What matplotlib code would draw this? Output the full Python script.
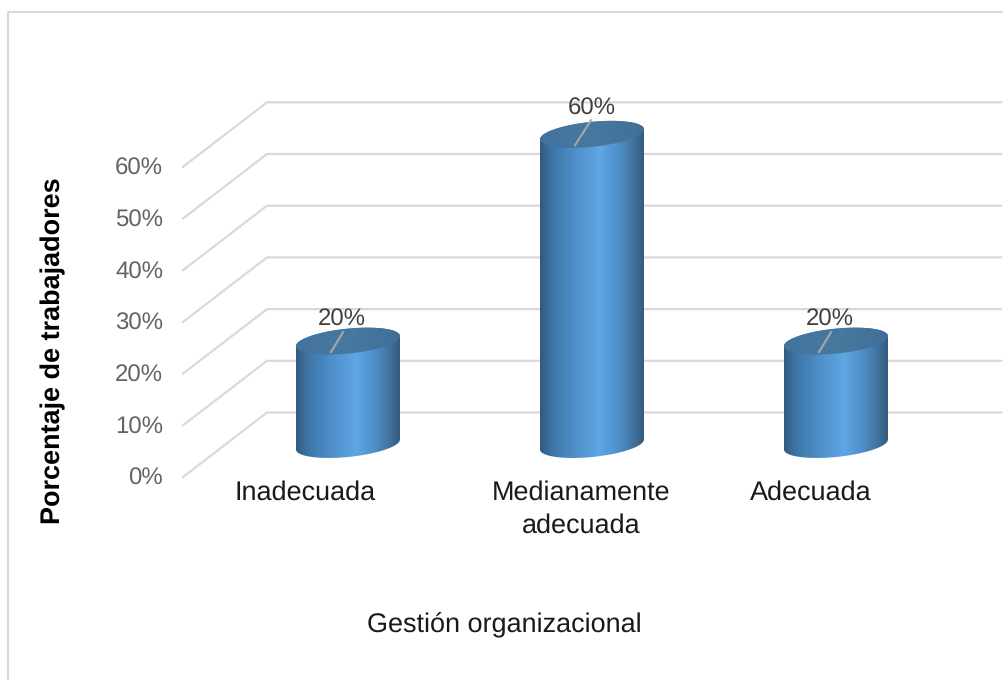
import matplotlib
matplotlib.use('Agg')
import matplotlib.pyplot as plt
import numpy as np
from matplotlib.colors import LinearSegmentedColormap
from matplotlib.patches import PathPatch
from matplotlib.path import Path

plt.rcParams['font.family'] = ['Liberation Sans', 'DejaVu Sans']
plt.rcParams['text.hinting'] = 'no_hinting'
plt.rcParams['text.hinting_factor'] = 1

categories = ['Inadecuada', 'Medianamente\nadecuada', 'Adecuada']
values = [20, 60, 20]
tick_values = [0, 10, 20, 30, 40, 50, 60]
tick_labels = ['0%', '10%', '20%', '30%', '40%', '50%', '60%']

# pixel layout of the fake 3d chart
PX_PER_UNIT = 5.17
FRONT_X, FRONT_ZERO = 183, 477
BACK_X, BACK_ZERO = 267, 412.5
BAR_ZERO = 444.5
BAR_FIRST, BAR_STEP = 348, 244
BAR_R = 52
GRID = '#d9d9d9'

# per bar offsets from the bar centre / top: label dx, label dy, leader top dx, leader top dy
label_pos = [(-6, -22, -5, -9), (0, -26, -1, -14), (-6, -22, -5, -9)]
cat_x = [305, 581, 811]
cat_y = [492.5, 509.5, 492.5]

body_cmap = LinearSegmentedColormap.from_list('body', [
    (0.0, '#33597e'), (0.12, '#3f76a8'), (0.35, '#4f90cb'), (0.58, '#5ea6e4'),
    (0.75, '#4f90cb'), (0.9, '#41749f'), (1.0, '#345a7c')])
top_cmap = LinearSegmentedColormap.from_list('top', ['#41739e', '#47799f', '#416f98'])


def ellipse(cx, cy, start, stop, n=60):
    # slightly tilted ellipse, left end lower than right end
    t = np.radians(np.linspace(start, stop, n))
    xs = cx + BAR_R * np.cos(t)
    ys = cy - 12.5 * np.sin(t) - 5 * np.cos(t)
    return np.column_stack([xs, ys])


def gradient_fill(ax, verts, cmap, x0, x1, y0, y1, zorder):
    patch = PathPatch(Path(np.vstack([verts, verts[0]])), fc='none', ec='none')
    ax.add_patch(patch)
    grad = np.linspace(0, 1, 256).reshape(1, -1)
    im = ax.imshow(grad, cmap=cmap, extent=[x0, x1, y1, y0], aspect='auto', zorder=zorder, interpolation='bilinear')
    im.set_clip_path(patch)


fig = plt.figure(figsize=(10.04, 6.8), dpi=100)
ax = fig.add_axes([0, 0, 1, 1])

# outer chart frame
ax.plot([8, 8, 1004], [680, 12, 12], color=GRID, lw=1.5, zorder=1)

for v, lab in zip(tick_values, tick_labels):
    dy = v * PX_PER_UNIT
    ax.plot([FRONT_X, BACK_X, 1001], [FRONT_ZERO - dy, BACK_ZERO - dy, BACK_ZERO - dy], color=GRID, lw=1.6, zorder=1)
    ax.text(163, FRONT_ZERO - dy + 2, lab, ha='right', va='center', fontsize=17.2, color='#646464')

for i, (cat, v) in enumerate(zip(categories, values)):
    cx = BAR_FIRST + i * BAR_STEP
    top = BAR_ZERO - v * PX_PER_UNIT
    verts = np.vstack([ellipse(cx, BAR_ZERO, 180, 360), ellipse(cx, top, 0, 180)])
    gradient_fill(ax, verts, body_cmap, cx - BAR_R, cx + BAR_R, top - 20, BAR_ZERO + 20, 3)
    gradient_fill(ax, ellipse(cx, top, 0, 360), top_cmap, cx - BAR_R, cx + BAR_R, top - 20, top + 20, 4)
    ldx, ldy, tdx, tdy = label_pos[i]
    ax.plot([cx - 17, cx + tdx], [top + 11, top + tdy], color='#a6a6a6', lw=1.5, zorder=5)
    ax.text(cx + ldx, top + ldy, f'{v}%', ha='center', va='center', fontsize=17.2, color='#404040', zorder=6)
    ax.text(cat_x[i], cat_y[i], cat, ha='center', va='center', fontsize=19.4, color='#1a1a1a', linespacing=1.4, zorder=6)

ax.text(504.5, 625.5, 'Gestión organizacional', ha='center', va='center', fontsize=19.3, color='#1a1a1a')
ax.text(53, 350.5, 'Porcentaje de trabajadores', ha='center', va='center', rotation=90,
        fontsize=19.4, fontweight='bold', color='black')

ax.set_xlim(0, 1004)
ax.set_ylim(680, 0)
ax.axis('off')
fig.savefig('out.png', dpi=100)
